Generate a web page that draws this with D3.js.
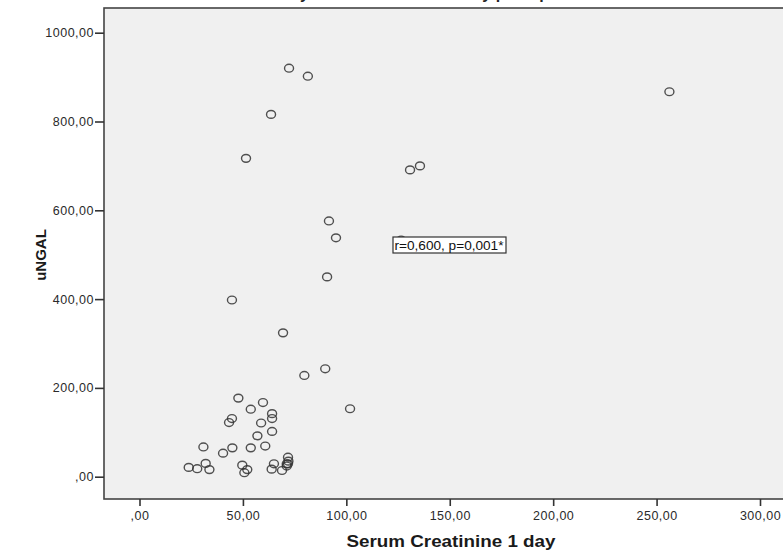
<!DOCTYPE html>
<html>
<head>
<meta charset="utf-8">
<script src="https://cdn.jsdelivr.net/npm/d3@7"></script>
<style>
  body { margin: 0; background: #fff; }
  svg { display: block; font-family: Arial, "Liberation Sans", sans-serif; }
</style>
</head>
<body>
<div class="graph-container"></div>
<script>
// data (Serum Creatinine 1 day, uNGAL)
const creatinine = [72.3, 81.4, 63.6, 256.2, 51.5, 130.8, 135.6, 91.6, 126.5, 95.0, 90.7, 44.7, 69.4,
  79.7, 89.8, 101.8, 47.8, 59.7, 53.8, 64.1, 64.1, 44.7, 43.3, 58.8, 57.0, 64.1,
  30.9, 40.4, 44.9, 53.8, 60.8, 23.8, 27.9, 32.0, 33.8, 49.7, 52.1, 50.7,
  63.9, 65.0, 68.9, 71.8, 72.0, 71.2, 71.8, 71.2];
const ngal = [920, 902, 816, 867, 717, 691, 700, 576, 533, 538, 450, 398, 324,
  228, 243, 153, 177, 167, 152, 142, 131, 131, 122, 121, 92, 102,
  67, 53, 65, 65, 69, 21, 18, 30, 16, 26, 16, 9,
  17, 29, 14, 44, 35, 29, 29, 24];
const xTicks = [0, 50, 100, 150, 200, 250, 300];
const yTicks = [0, 200, 400, 600, 800, 1000];
const corrLabel = "r=0,600, p=0,001*";

const w = 783;
const h = 556;
// plot frame
const frame = { left: 104, top: 8, bottom: 499, right: 790 };

const xScale = d3.scaleLinear().domain([0, 300]).range([139.5, 760]);
const yScale = d3.scaleLinear().domain([0, 1000]).range([476.7, 32.7]);

const fmt = d => d === 0 ? ",00" : d.toFixed(2).replace(".", ",");

const svg = d3.select(".graph-container")
  .append("svg")
  .attr("width", w)
  .attr("height", h);

// title, cut off at the top of the picture like the original
svg.append("text")
  .attr("x", 390)
  .attr("y", -1)
  .attr("text-anchor", "middle")
  .attr("font-size", 16)
  .attr("font-weight", "bold")
  .attr("fill", "#222")
  .text("uNGAL by Serum Creatinine 1 day postop");

svg.append("rect")
  .attr("x", frame.left)
  .attr("y", frame.top)
  .attr("width", frame.right - frame.left)
  .attr("height", frame.bottom - frame.top)
  .attr("fill", "#f0f0f0")
  .attr("stroke", "#444")
  .attr("stroke-width", 1.6);

const xAxis = d3.axisBottom(xScale).tickValues(xTicks).tickFormat(fmt).tickSize(7).tickSizeOuter(0);
const yAxis = d3.axisLeft(yScale).tickValues(yTicks).tickFormat(fmt).tickSize(9).tickSizeOuter(0);

const gx = svg.append("g")
  .attr("transform", "translate(0," + frame.bottom + ")")
  .call(xAxis);
gx.select(".domain").remove();
gx.selectAll(".tick line").attr("stroke", "#333").attr("stroke-width", 1.6);
gx.selectAll(".tick text")
  .attr("font-size", 12.5)
  .attr("letter-spacing", 0.5)
  .attr("fill", "#2a2a2a")
  .attr("y", 12)
  .attr("font-family", "Arial, 'Liberation Sans', sans-serif");

const gy = svg.append("g")
  .attr("transform", "translate(" + frame.left + ",0)")
  .call(yAxis);
gy.select(".domain").remove();
gy.selectAll(".tick line").attr("stroke", "#333").attr("stroke-width", 1.6);
gy.selectAll(".tick text")
  .attr("font-size", 12.5)
  .attr("letter-spacing", 0.5)
  .attr("fill", "#2a2a2a")
  .attr("x", -10)
  .attr("font-family", "Arial, 'Liberation Sans', sans-serif");

// axis titles
svg.append("text")
  .attr("x", 451)
  .attr("y", 547)
  .attr("text-anchor", "middle")
  .attr("font-size", 16)
  .attr("font-weight", "bold")
  .attr("fill", "#1a1a1a")
  .attr("textLength", 209)
  .attr("lengthAdjust", "spacingAndGlyphs")
  .text("Serum Creatinine 1 day");

svg.append("text")
  .attr("transform", "translate(46,255) rotate(-90)")
  .attr("text-anchor", "middle")
  .attr("font-size", 15)
  .attr("font-weight", "bold")
  .attr("fill", "#1a1a1a")
  .text("uNGAL");

// points
svg.append("g")
  .selectAll("ellipse")
  .data(creatinine)
  .enter()
  .append("ellipse")
  .attr("cx", d => xScale(d))
  .attr("cy", (d, i) => yScale(ngal[i]))
  .attr("rx", 4.5)
  .attr("ry", 3.9)
  .attr("fill", "none")
  .attr("stroke", "#333")
  .attr("stroke-opacity", 0.85)
  .attr("stroke-width", 1.4);

// correlation label
const lab = svg.append("g").attr("transform", "translate(393,237)");
lab.append("rect")
  .attr("width", 113)
  .attr("height", 16)
  .attr("fill", "#fff")
  .attr("stroke", "#333")
  .attr("stroke-width", 1.2);
lab.append("text")
  .attr("x", 1.5)
  .attr("y", 12.5)
  .attr("font-size", 12)
  .attr("fill", "#111")
  .attr("textLength", 109)
  .attr("lengthAdjust", "spacingAndGlyphs")
  .text(corrLabel);
</script>
</body>
</html>
